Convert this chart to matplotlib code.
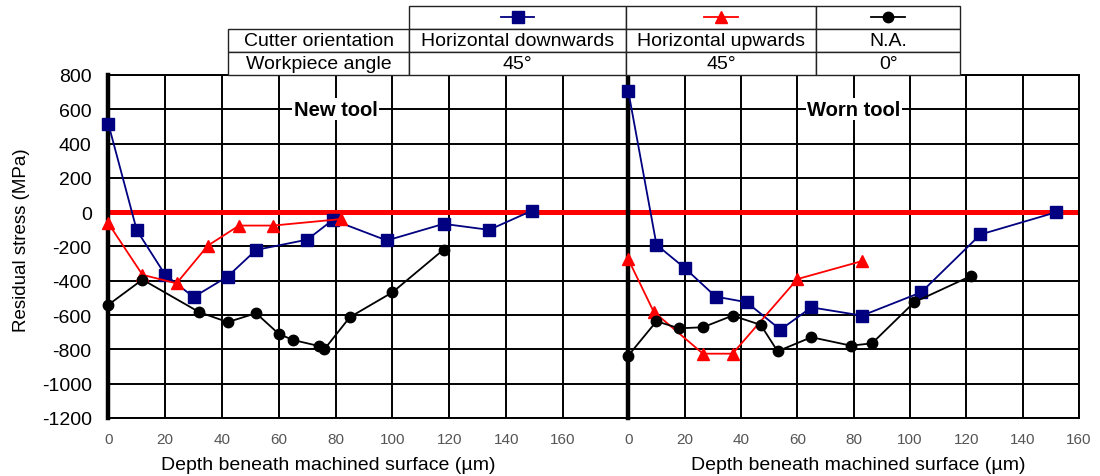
import matplotlib.pyplot as plt
import numpy as np

plt.rcParams['font.family'] = ['Liberation Sans', 'DejaVu Sans']
plt.rcParams['axes.unicode_minus'] = False

# New tool
new_down_x = [0, 10, 20, 30, 42, 52, 70, 79, 98, 118, 134, 149]
new_down_y = [515, -105, -365, -495, -375, -220, -160, -45, -165, -68, -103, 8]
new_up_x = [0, 12, 24, 35, 46, 58, 82]
new_up_y = [-65, -365, -415, -195, -78, -78, -40]
new_na_x = [0, 12, 32, 42, 52, 60, 65, 74, 76, 85, 100, 118]
new_na_y = [-540, -393, -583, -641, -589, -710, -745, -780, -800, -612, -467, -218]

# Worn tool
worn_down_x = [0, 10, 20, 31, 42, 54, 65, 83, 104, 125, 152]
worn_down_y = [705, -190, -325, -492, -525, -685, -555, -603, -467, -130, 0]
worn_up_x = [0, 9, 26.5, 37, 60, 83]
worn_up_y = [-275, -580, -825, -825, -390, -285]
worn_na_x = [0, 10, 18, 26.5, 37, 47, 53, 65, 79, 86.5, 101.5, 121.5]
worn_na_y = [-836, -636, -677, -671, -603, -657, -811, -729, -778, -765, -525, -373]

x_ticks = [0, 20, 40, 60, 80, 100, 120, 140, 160]
y_ticks = [800, 600, 400, 200, 0, -200, -400, -600, -800, -1000, -1200]

row_names = ['', 'Cutter orientation', 'Workpiece angle']
orientations = ['Horizontal downwards', 'Horizontal upwards', 'N.A.']
angles = ['45°', '45°', '0°']

styles = [
    dict(color='#000080', marker='s', markersize=8),
    dict(color='#ff0000', marker='^', markersize=8.5),
    dict(color='black', marker='o', markersize=7.5),
]

fig = plt.figure(figsize=(11, 4.77), dpi=100)
ax_new = fig.add_axes([0.0985, 0.1216, 0.4727, 0.7191])
ax_worn = fig.add_axes([0.5712, 0.1216, 0.4097, 0.7191])

panels = [
    (ax_new, 'New tool', [(new_down_x, new_down_y), (new_up_x, new_up_y), (new_na_x, new_na_y)], 183),
    (ax_worn, 'Worn tool', [(worn_down_x, worn_down_y), (worn_up_x, worn_up_y), (worn_na_x, worn_na_y)], 160),
]

for ax, title, series, xmax in panels:
    ax.set_xlim(0, xmax)
    ax.set_ylim(-1200, 800)
    ax.set_xticks(x_ticks)
    ax.set_yticks(y_ticks)
    ax.set_axisbelow(True)
    ax.grid(True, color='black', linewidth=1.4)
    ax.axhline(0, color='#ff0000', linewidth=3.6, zorder=2)
    for (xs, ys), st in zip(series, styles):
        ax.plot(xs, ys, linewidth=1.3, markeredgecolor=st['color'], zorder=3, clip_on=False, **st)
    ax.text(80, 600, title, ha='center', va='center', fontsize=14.5, fontweight='bold',
            bbox=dict(facecolor='white', edgecolor='none', pad=1), zorder=4)
    ax.spines['left'].set_linewidth(3.2)
    for side in ['top', 'bottom', 'right']:
        ax.spines[side].set_linewidth(1.4)
    ax.tick_params(axis='both', length=0)
    ax.tick_params(axis='x', labelsize=11, labelcolor='#555555', pad=10)
    ax.tick_params(axis='y', labelsize=14, pad=12)

ax_new.spines['right'].set_visible(False)
ax_worn.tick_params(axis='y', labelleft=False)

fig.text(0.02, 0.497, 'Residual stress (MPa)', rotation=90, ha='center', va='center', fontsize=13.5)
fig.text(0.298, 0.025, 'Depth beneath machined surface (µm)', ha='center', va='center', fontsize=14)
fig.text(0.78, 0.025, 'Depth beneath machined surface (µm)', ha='center', va='center', fontsize=14)

# table with legend row
col_w = np.array([181, 217, 190, 144]) / 732
ax_tab = fig.add_axes([0.2073, 0.8407, 0.6655, 0.1447])
ax_tab.set_xlim(0, 1)
ax_tab.set_ylim(0, 1)
ax_tab.axis('off')
cells = [[row_names[0], '', '', ''],
         [row_names[1]] + orientations,
         [row_names[2]] + angles]
tab = ax_tab.table(cellText=cells, colWidths=list(col_w), cellLoc='center', bbox=[0, 0, 1, 1])
tab.auto_set_font_size(False)
tab.set_fontsize(14)
for (r, c), cell in tab.get_celld().items():
    cell.set_linewidth(1.0)
    cell.set_edgecolor('#222222')
    if c == 0:
        cell._loc = 'left'
        cell.PAD = 0.04
    if r == 0 and c == 0:
        cell.visible_edges = ''

centers = np.cumsum(col_w) - col_w / 2
for cx, st in zip(centers[1:], styles):
    ax_tab.plot([cx - 0.023, cx, cx + 0.023], [5 / 6] * 3, linewidth=1.3, markevery=[1],
                markeredgecolor=st['color'], clip_on=False, **st)

fig.savefig('out.png', dpi=100)
